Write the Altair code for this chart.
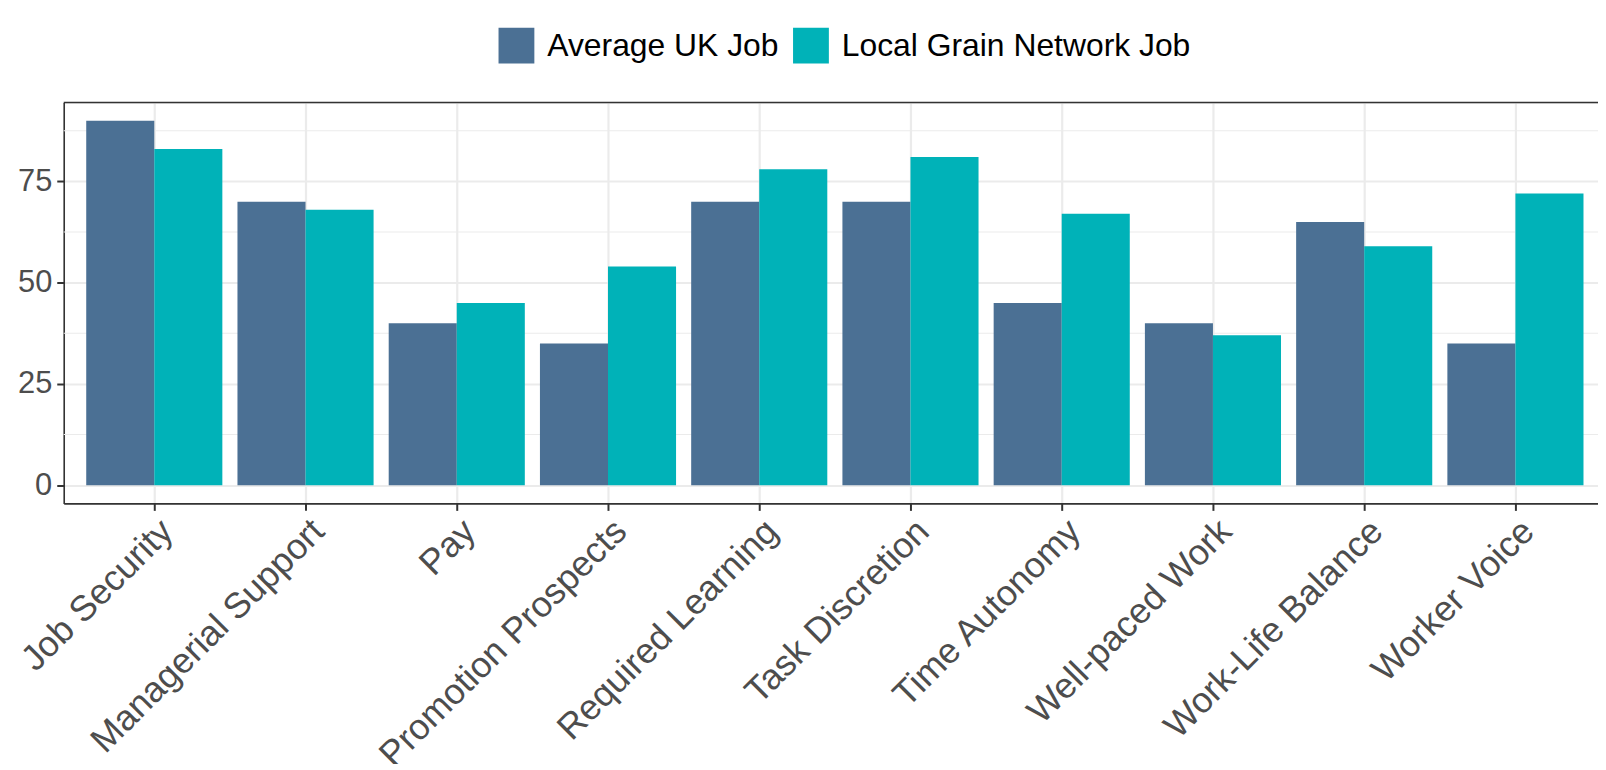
import altair as alt
import pandas as pd

categories = ["Job Security", "Managerial Support", "Pay", "Promotion Prospects",
              "Required Learning", "Task Discretion", "Time Autonomy",
              "Well-paced Work", "Work-Life Balance", "Worker Voice"]
series = ["Average UK Job", "Local Grain Network Job"]
uk_values = [90, 70, 40, 35, 70, 70, 45, 40, 65, 35]
lgn_values = [83, 68, 45, 54, 78, 81, 67, 37, 59, 72]
y_ticks = [0, 25, 50, 75]
minor_ticks = [12.5, 37.5, 62.5, 87.5]
colors = ["#4B7094", "#00B2B8"]

rows = []
for c, a, b in zip(categories, uk_values, lgn_values):
    rows.append({"category": c, "series": series[0], "value": a})
    rows.append({"category": c, "series": series[1], "value": b})
df = pd.DataFrame(rows)

W = 1542
H = 403
FONT = "Liberation Sans"

yscale = alt.Scale(domain=[-4.5, 94.5], nice=False, zero=False)

minor = alt.Chart(pd.DataFrame({"v": minor_ticks})).mark_rule(
    color="#EBEBEB", strokeWidth=1.1
).encode(y=alt.Y("v:Q", scale=yscale))

bars = alt.Chart(df).mark_bar().encode(
    x=alt.X("category:N", sort=categories, title=None,
            scale=alt.Scale(paddingInner=0.1, paddingOuter=0.1224, align=0.608),
            axis=alt.Axis(labelAngle=-45, labelAlign="right", labelBaseline="top",
                          labelFontSize=36, labelColor="#4D4D4D", labelFont=FONT,
                          labelOffset=1, labelPadding=3, labelLimit=0,
                          labelOverlap=False, tickSize=7, tickColor="#333333",
                          tickWidth=2, domainColor="#333333", domainWidth=1.6,
                          grid=True, gridColor="#EBEBEB", gridWidth=2.2,
                          bandPosition=0.5)),
    xOffset=alt.XOffset("series:N", sort=series,
                        scale=alt.Scale(paddingInner=0, paddingOuter=0)),
    y=alt.Y("value:Q", scale=yscale, title=None,
            axis=alt.Axis(values=y_ticks, labelFontSize=31, labelColor="#4D4D4D",
                          labelFont=FONT, labelPadding=5, tickSize=7,
                          tickColor="#333333", tickWidth=2, domainColor="#333333",
                          domainWidth=1.6, grid=True, gridColor="#EBEBEB",
                          gridWidth=2.2)),
    y2=alt.datum(0),
    color=alt.Color("series:N", sort=series,
                    scale=alt.Scale(domain=series, range=colors),
                    legend=alt.Legend(title=None, orient="none", direction="horizontal",
                                      legendX=437, legendY=-75, padding=0,
                                      symbolType="square", symbolSize=1296,
                                      symbolStrokeWidth=0, symbolOpacity=1,
                                      labelFontSize=32, labelColor="#000000",
                                      labelFont=FONT, labelOffset=13,
                                      columnPadding=14, labelLimit=600)),
)

top_border = alt.Chart(pd.DataFrame({"a": [0]})).mark_rule(
    color="#333333", strokeWidth=1.6
).encode(x=alt.value(0), x2=alt.value(W), y=alt.value(0))

chart = alt.layer(minor, bars, top_border).properties(
    width=W, height=H,
    autosize=alt.AutoSizeParams(type="none"),
    padding={"left": 56, "top": 93, "right": 0, "bottom": 260},
).configure_view(stroke=None).configure(font=FONT)

chart.save("out.html", embed_options={"renderer": "svg", "actions": False})
